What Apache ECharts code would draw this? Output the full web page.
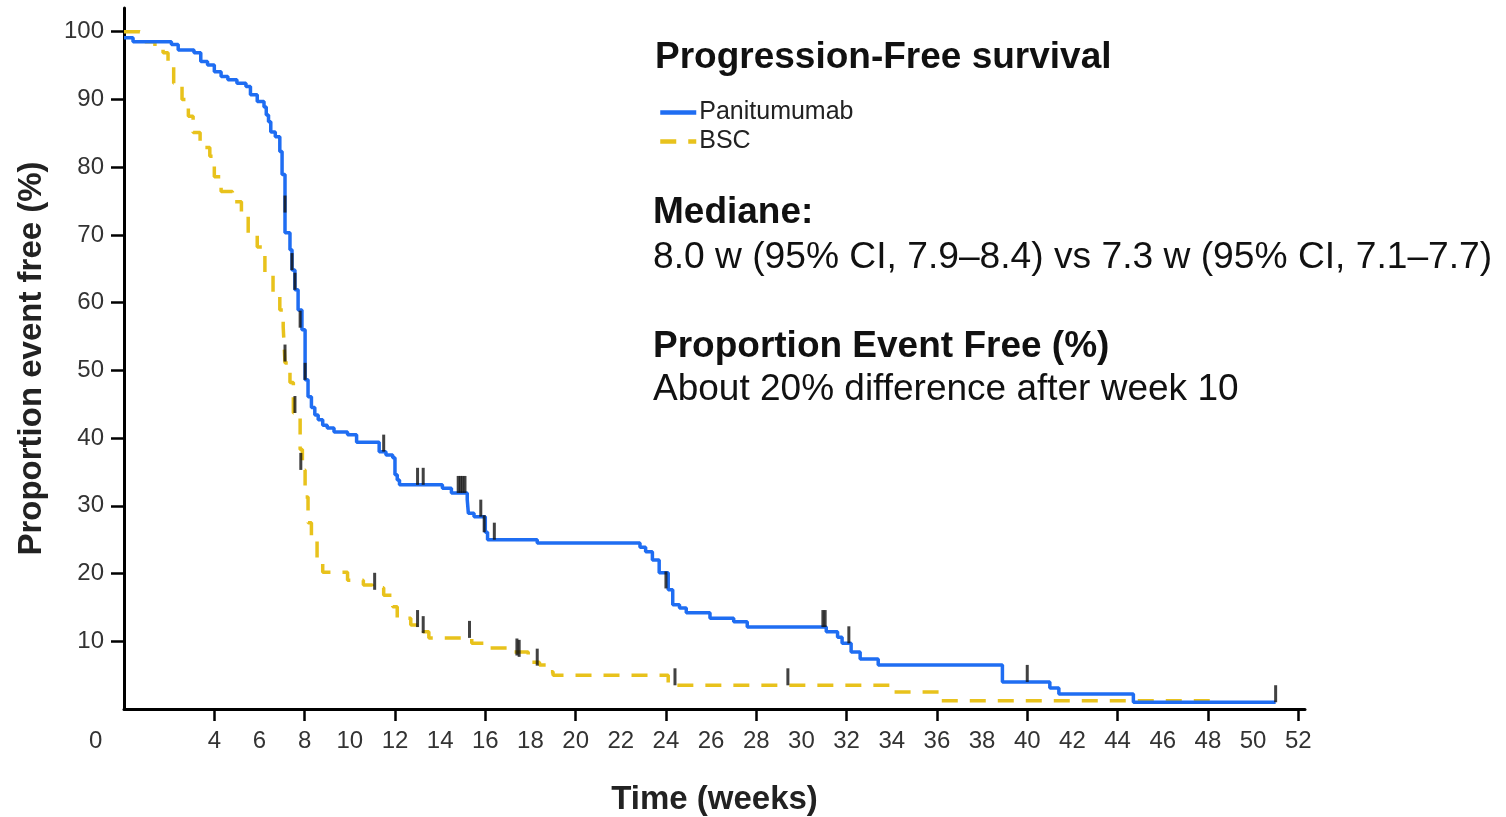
<!DOCTYPE html>
<html>
<head>
<meta charset="utf-8">
<script src="https://cdn.jsdelivr.net/npm/echarts@6/dist/echarts.min.js"></script>
<style>html,body{margin:0;padding:0;background:#fff}#c{width:1506px;height:817px}</style>
</head>
<body>
<div id="c"></div>
<script>
// ---- data (weeks, % event free) ----
const panitumumab = [
  [0, 99.1], [0.4, 98.5], [2.1, 98.1], [2.4, 97.3], [3.1, 96.9], [3.4, 95.6], [3.7, 95.1],
  [4.0, 94.1], [4.3, 93.4], [4.6, 92.9], [5.0, 92.4], [5.4, 91.9], [5.6, 90.7], [5.9, 89.7],
  [6.2, 88.9], [6.3, 87.7], [6.4, 86.7], [6.5, 85.2], [6.7, 84.5], [6.9, 82.3], [7.0, 78.9],
  [7.13, 70.3], [7.35, 67.8], [7.44, 64.8], [7.57, 61.9], [7.71, 58.9], [7.88, 56.0],
  [8.02, 48.6], [8.15, 46.1], [8.3, 44.5], [8.45, 43.4], [8.6, 42.7], [8.8, 41.9], [9.0, 41.5],
  [9.3, 40.9], [9.9, 40.5], [10.3, 39.4], [11.3, 38.0], [11.6, 37.5], [11.9, 37.1], [12.0, 34.6],
  [12.1, 33.8], [12.2, 33.1], [14.1, 32.6], [14.5, 31.9], [15.2, 30.9], [15.25, 28.9],
  [15.5, 28.4], [16.0, 26.1], [16.1, 25.0], [18.3, 24.5], [22.85, 23.9], [23.1, 23.2],
  [23.4, 22.0], [23.7, 20.1], [24.1, 17.6], [24.3, 15.4], [24.6, 14.9], [24.9, 14.2],
  [25.95, 13.4], [27.0, 12.9], [27.6, 12.1], [31.1, 11.4], [31.6, 10.6], [31.8, 9.7],
  [32.2, 8.4], [32.6, 7.4], [33.4, 6.5], [38.9, 4.0], [41.0, 3.1], [41.4, 2.2], [44.7, 1.0],
  [51.0, 1.0]
];
const bsc = [
  [0, 100], [0.7, 99.8], [0.93, 98.5], [1.37, 97.8], [1.73, 96.9], [1.95, 94.8], [2.2, 92.4],
  [2.57, 90.0], [2.85, 87.5], [3.06, 85.1], [3.37, 82.9], [3.8, 81.6], [4.0, 78.6], [4.3, 76.4],
  [4.8, 74.9], [5.2, 72.7], [5.5, 70.3], [5.9, 68.2], [6.24, 64.4], [6.6, 61.4], [6.9, 58.9],
  [7.05, 56.4], [7.13, 51.1], [7.35, 48.2], [7.5, 43.7], [7.8, 38.3], [7.9, 35.3], [8.02, 31.3],
  [8.15, 27.5], [8.3, 25.4], [8.55, 21.6], [8.8, 20.2], [9.9, 19.0], [10.6, 18.3], [11.0, 17.9],
  [11.5, 16.8], [11.9, 15.1], [12.1, 13.4], [12.7, 12.4], [13.25, 11.4], [13.5, 10.5],
  [15.4, 9.7], [16.1, 9.0], [17.0, 8.4], [17.9, 6.9], [18.4, 6.5], [18.9, 5.5], [19.0, 5.0],
  [24.1, 3.5], [34.0, 2.5], [36.1, 1.2], [48.1, 1.2]
];
const censorPanitumumab = [
  [7.13, 73.3], [7.44, 64.8], [7.57, 61.9], [7.8, 56.3], [8.02, 48.6], [11.5, 38.0],
  [13.0, 33.1], [13.25, 33.1], [14.8, 31.9], [14.9, 31.9], [15.0, 31.9], [15.1, 31.9],
  [15.8, 28.4], [15.95, 26.1], [16.4, 25.0], [24.0, 17.8], [30.95, 12.1], [31.05, 12.1],
  [32.1, 9.7], [40.0, 4.0], [51.0, 1.0]
];
const censorBsc = [
  [7.13, 51.3], [7.57, 43.7], [7.83, 35.3], [11.1, 17.6], [13.0, 12.1], [13.25, 11.2],
  [15.3, 10.5], [17.4, 7.9], [17.5, 7.7], [18.3, 6.4], [24.4, 3.5], [29.4, 3.5]
];
const xTickValues = [4, 8, 12, 16, 20, 24, 28, 32, 36, 40, 44, 48, 52];
const xLabelValues = [4, 6, 8, 10, 12, 14, 16, 18, 20, 22, 24, 26, 28, 30, 32, 34, 36, 38, 40, 42, 44, 46, 48, 50, 52];
const yLabelValues = [10, 20, 30, 40, 50, 60, 70, 80, 90, 100];
const seriesNames = ['Panitumumab', 'BSC'];
const textLines = {
  title: 'Progression-Free survival',
  medianHead: 'Mediane:',
  median: '8.0 w (95% CI, 7.9–8.4) vs 7.3 w (95% CI, 7.1–7.7)',
  propHead: 'Proportion Event Free (%)',
  prop: 'About 20% difference after week 10'
};

const FONT = "'Liberation Sans', Arial, sans-serif";
const BLUE = '#1f6df2';
const YELLOW = '#e8c21c';

const chart = echarts.init(document.getElementById('c'), null, {renderer: 'canvas'});
chart.setOption({
  animation: false,
  backgroundColor: '#fff',
  textStyle: {fontFamily: FONT},
  grid: {left: 124, right: 201, top: 8, bottom: 108, containLabel: false, outerBoundsMode: 'none'},
  xAxis: {
    type: 'value', min: 0, max: 52.3,
    name: 'Time (weeks)', nameLocation: 'middle', nameGap: 74,
    nameTextStyle: {fontSize: 33, fontWeight: 'bold', color: '#222', fontFamily: FONT},
    axisLine: {show: true, lineStyle: {color: '#000', width: 3}},
    axisTick: {show: true, length: 12, lineStyle: {color: '#000', width: 2.5}, customValues: xTickValues},
    axisLabel: {show: true, fontSize: 24, color: '#333', margin: 20, customValues: xLabelValues, fontFamily: FONT},
    splitLine: {show: false}
  },
  yAxis: {
    type: 'value', min: 0, max: 103.5,
    name: 'Proportion event free (%)', nameLocation: 'middle', nameGap: 76, nameRotate: 90,
    nameTextStyle: {fontSize: 33, fontWeight: 'bold', color: '#222', fontFamily: FONT},
    axisLine: {show: true, lineStyle: {color: '#000', width: 3}},
    axisTick: {show: true, length: 13, lineStyle: {color: '#000', width: 2.5}, customValues: yLabelValues},
    axisLabel: {show: true, fontSize: 24, color: '#333', margin: 20, customValues: yLabelValues, fontFamily: FONT},
    splitLine: {show: false}
  },
  legend: {
    data: seriesNames,
    orient: 'vertical', left: 653, top: 95, itemGap: 4,
    itemWidth: 36, itemHeight: 14,
    itemStyle: {opacity: 0},
    lineStyle: {width: 4.5},
    textStyle: {fontSize: 25, color: '#222', fontFamily: FONT, padding: [0, 0, 0, -2]}
  },
  series: [
    {
      name: seriesNames[0], type: 'line', step: 'end', data: panitumumab,
      symbol: 'none', lineStyle: {color: BLUE, width: 3.5}, itemStyle: {color: BLUE}, z: 3
    },
    {
      name: seriesNames[1], type: 'line', step: 'end', data: bsc,
      symbol: 'none', lineStyle: {color: YELLOW, width: 3.5, type: [16, 12]}, itemStyle: {color: YELLOW}, z: 2
    },
    {
      name: 'censor1', type: 'scatter', data: censorPanitumumab,
      symbol: 'rect', symbolSize: [3, 17], symbolOffset: [0, '-50%'],
      itemStyle: {color: '#111'}, z: 5, silent: true
    },
    {
      name: 'censor2', type: 'scatter', data: censorBsc,
      symbol: 'rect', symbolSize: [3, 17], symbolOffset: [0, '-50%'],
      itemStyle: {color: '#111'}, z: 5, silent: true
    }
  ],
  graphic: [
    {type: 'text', left: 89, top: 729, style: {text: '0', fontSize: 24, fontFamily: FONT, fill: '#333'}},
    {type: 'text', left: 655, top: 39, style: {text: textLines.title, fontSize: 37, fontWeight: 'bold', fontFamily: FONT, fill: '#111'}},
    {type: 'text', left: 653, top: 194, style: {text: textLines.medianHead, fontSize: 37, fontWeight: 'bold', fontFamily: FONT, fill: '#111'}},
    {type: 'text', left: 653, top: 239, style: {text: textLines.median, fontSize: 37.2, fontFamily: FONT, fill: '#111'}},
    {type: 'text', left: 653, top: 328, style: {text: textLines.propHead, fontSize: 37, fontWeight: 'bold', fontFamily: FONT, fill: '#111'}},
    {type: 'text', left: 653, top: 371, style: {text: textLines.prop, fontSize: 37, fontFamily: FONT, fill: '#111'}}
  ]
});
</script>
</body>
</html>
